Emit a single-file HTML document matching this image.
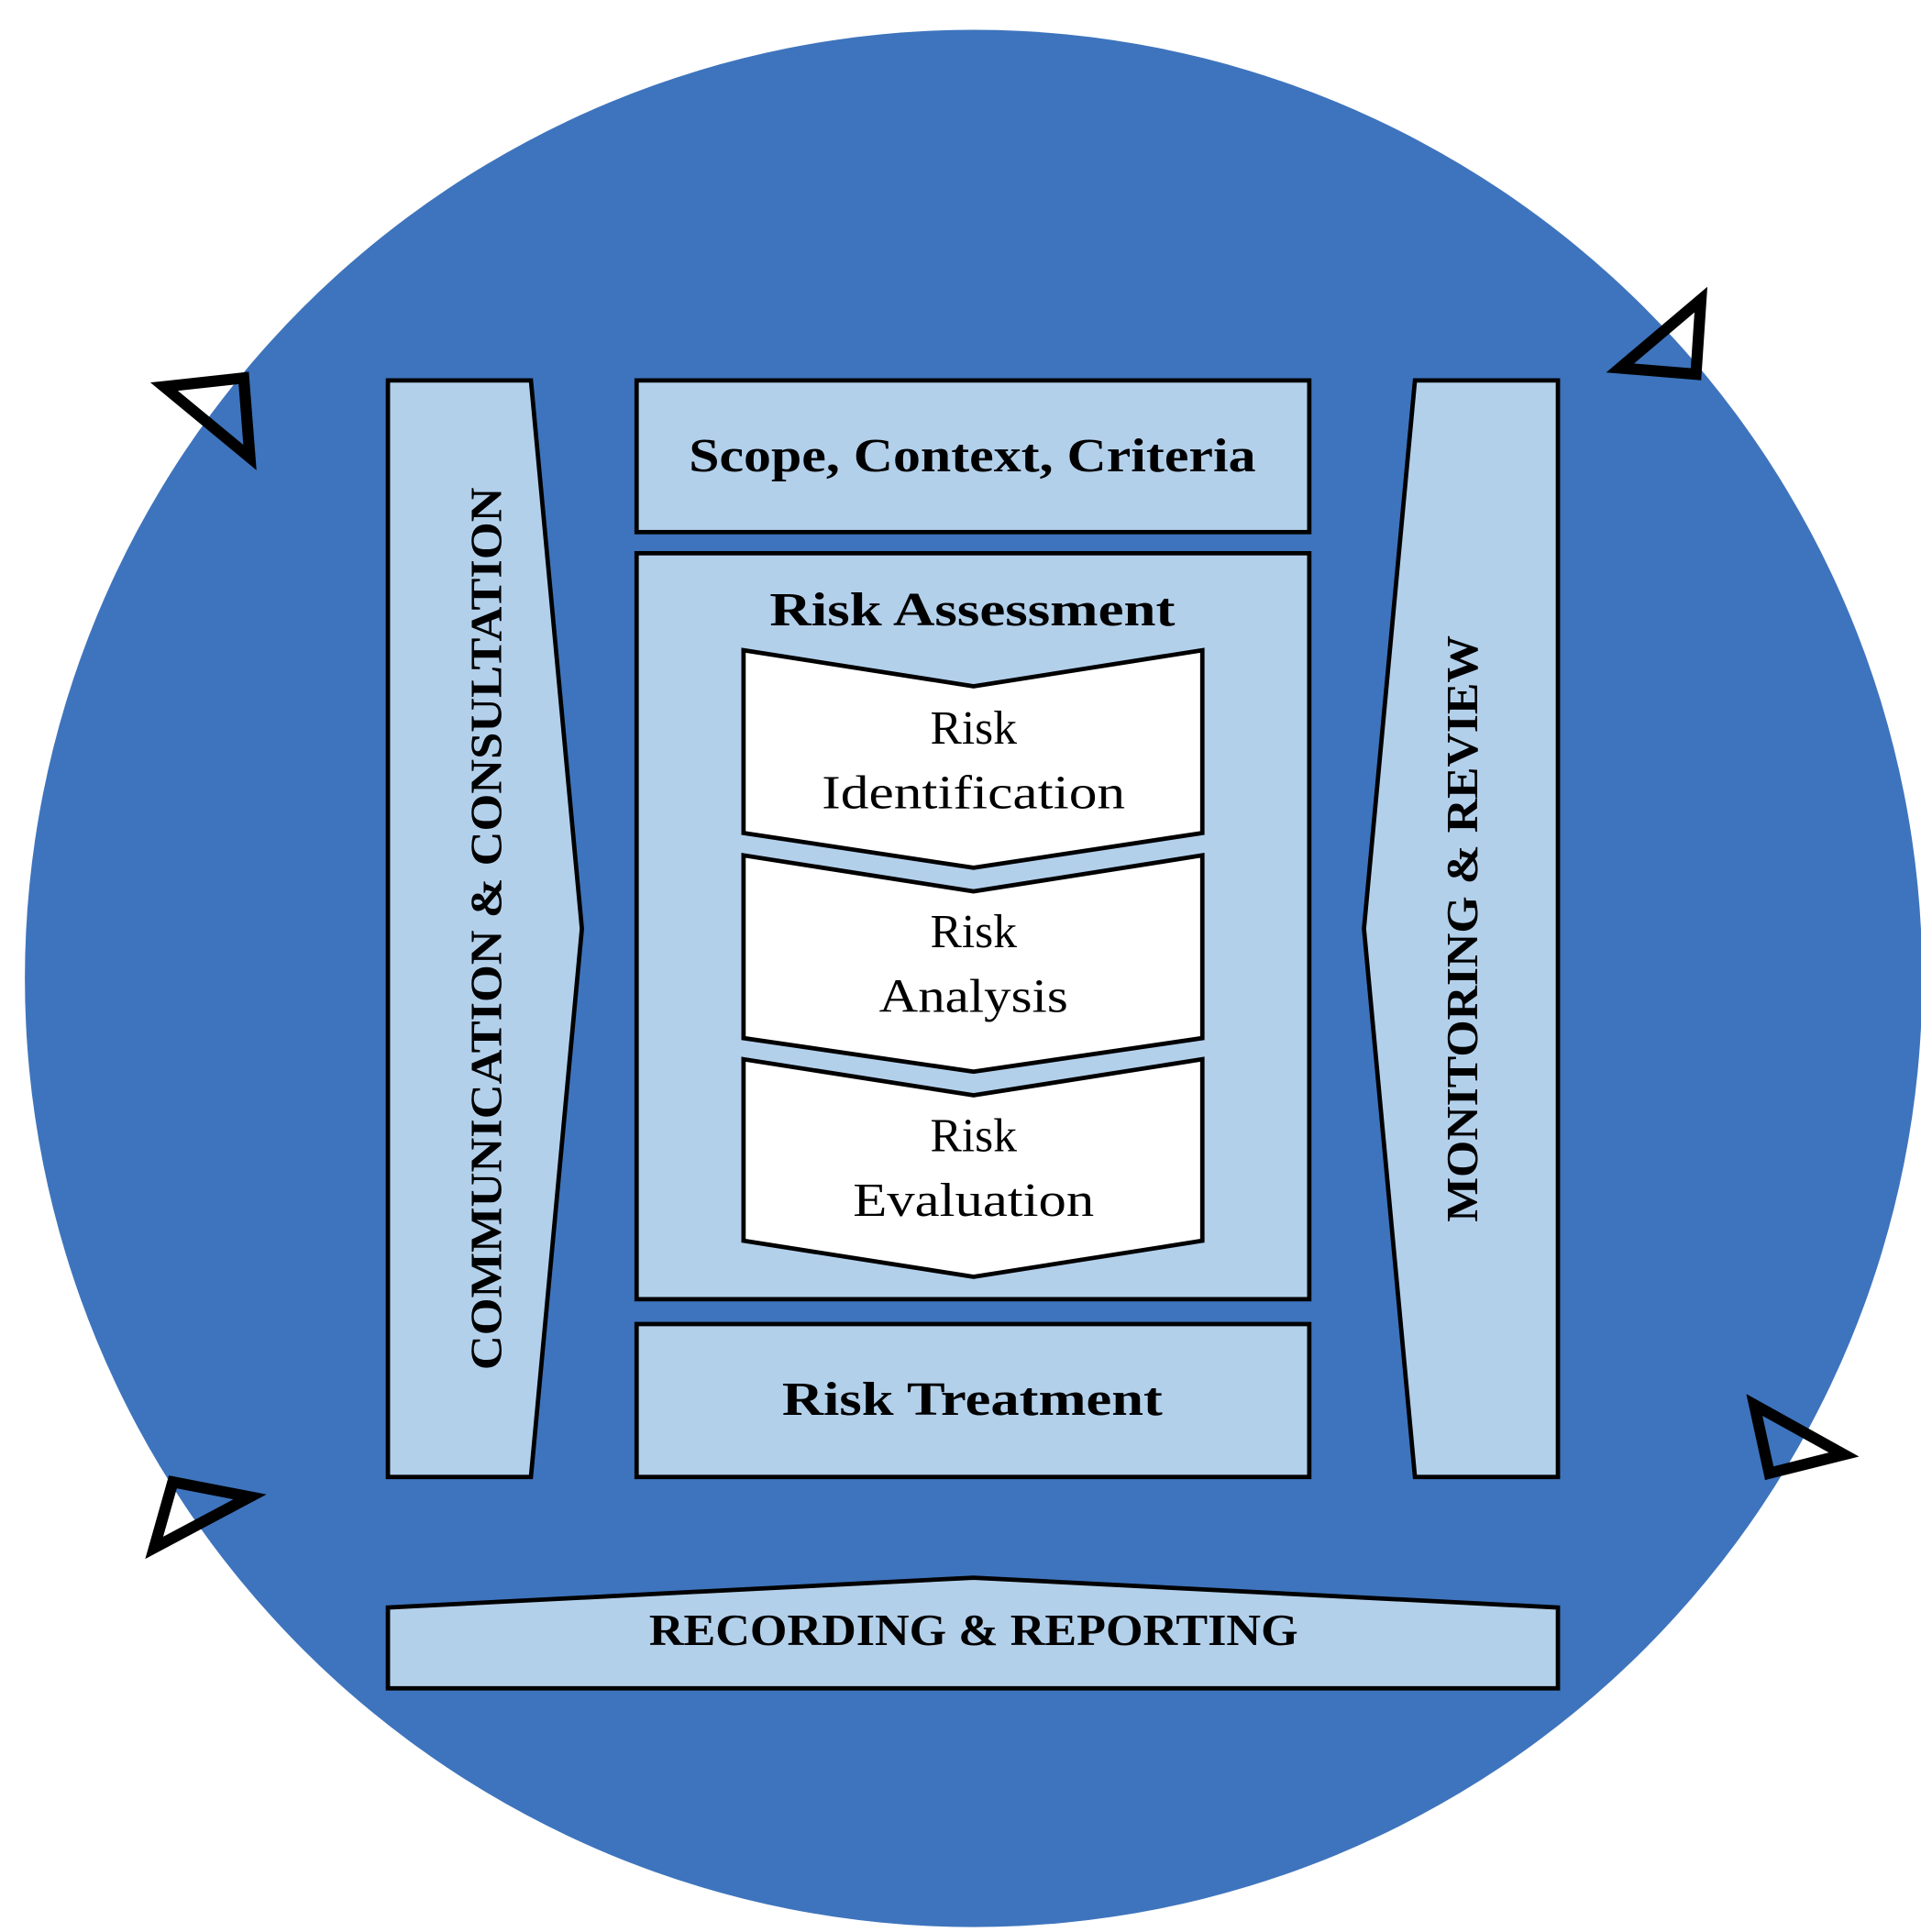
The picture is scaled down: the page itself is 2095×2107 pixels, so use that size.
<!DOCTYPE html>
<html><head><meta charset="utf-8"><style>html,body{margin:0;padding:0;background:#fff;}svg{display:block}</style></head>
<body>
<svg width="2095" height="2107" viewBox="0 0 1545 1554" preserveAspectRatio="none" xmlns="http://www.w3.org/2000/svg" font-family="'Liberation Serif', serif">
<rect width="1545" height="1554" fill="#fff"/>
<circle cx="783" cy="787" r="763" fill="#3e74bd"/>
<g stroke="#000" stroke-width="9" fill="none" stroke-linejoin="miter">
<polygon points="132,311 196,304 201,368"/>
<polygon points="1303,296 1368,241 1364,301"/>
<polygon points="124,1245 139,1192 201,1204"/>
<polygon points="1411,1130 1483,1170 1423,1185"/>
</g>
<g stroke="#000" stroke-width="3.5" fill="#b3d0eb">
<polygon points="312,306 427,306 468,747 427,1188 312,1188"/>
<polygon points="1138,306 1253,306 1253,1188 1138,1188 1097,747"/>
<rect x="512" y="306" width="541" height="122"/>
<rect x="512" y="445" width="541" height="600"/>
<rect x="512" y="1065" width="541" height="123"/>
<polygon points="312,1293 783,1269 1253,1293 1253,1358 312,1358"/>
</g>
<g stroke="#000" stroke-width="3.5" fill="#fff">
<polygon points="598,523 783,552 967,523 967,670 783,698 598,670"/>
<polygon points="598,688 783,717 967,688 967,835 783,862 598,835"/>
<polygon points="598,852 783,881 967,852 967,998 783,1027 598,998"/>
</g>
<g fill="#000" text-anchor="middle" font-weight="bold" font-size="38">
<text x="782" y="379" textLength="456" lengthAdjust="spacingAndGlyphs">Scope, Context, Criteria</text>
<text x="782" y="503" textLength="326" lengthAdjust="spacingAndGlyphs">Risk Assessment</text>
<text x="782" y="1138" textLength="306" lengthAdjust="spacingAndGlyphs">Risk Treatment</text>
<text x="783" y="1323" font-size="36" textLength="522" lengthAdjust="spacingAndGlyphs">RECORDING &amp; REPORTING</text>
<text transform="translate(403,747) rotate(-90)" font-size="36" textLength="710" lengthAdjust="spacingAndGlyphs">COMMUNICATION &amp; CONSULTATION</text>
<text transform="translate(1188,747) rotate(-90)" font-size="36" textLength="472" lengthAdjust="spacingAndGlyphs">MONITORING &amp; REVIEW</text>
</g>
<g fill="#000" text-anchor="middle" font-size="38">
<text x="783" y="598">Risk</text>
<text x="783" y="650" textLength="244" lengthAdjust="spacingAndGlyphs">Identification</text>
<text x="783" y="762">Risk</text>
<text x="783" y="814" textLength="152" lengthAdjust="spacingAndGlyphs">Analysis</text>
<text x="783" y="926">Risk</text>
<text x="783" y="978" textLength="194" lengthAdjust="spacingAndGlyphs">Evaluation</text>
</g>
</svg>
</body></html>
